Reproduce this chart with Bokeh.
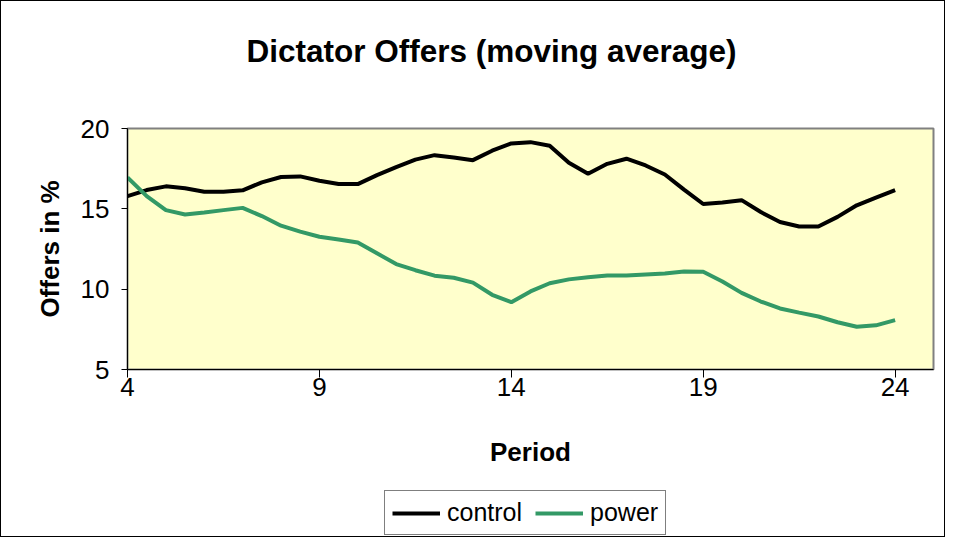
from bokeh.plotting import figure
from bokeh.models import Range1d, FixedTicker, Legend, LegendItem, Label
from bokeh.layouts import column
from bokeh.embed import file_html
from bokeh.resources import INLINE

periods = [4, 4.5, 5, 5.5, 6, 6.5, 7, 7.5, 8, 8.5, 9, 9.5, 10, 10.5, 11, 11.5, 12, 12.5,
           13, 13.5, 14, 14.5, 15, 15.5, 16, 16.5, 17, 17.5, 18, 18.5, 19, 19.5, 20, 20.5,
           21, 21.5, 22, 22.5, 23, 23.5, 24]
control = [15.79, 16.17, 16.40, 16.28, 16.06, 16.06, 16.15, 16.65, 16.98, 17.02, 16.75,
           16.54, 16.54, 17.10, 17.60, 18.06, 18.34, 18.20, 18.03, 18.62, 19.07, 19.15,
           18.93, 17.87, 17.18, 17.80, 18.12, 17.70, 17.14, 16.20, 15.30, 15.40, 15.54,
           14.80, 14.18, 13.90, 13.90, 14.50, 15.22, 15.70, 16.16]
power = [16.95, 15.79, 14.92, 14.65, 14.77, 14.92, 15.06, 14.55, 13.95, 13.58, 13.26,
         13.09, 12.90, 12.23, 11.56, 11.18, 10.84, 10.71, 10.41, 9.65, 9.19, 9.86, 10.37,
         10.61, 10.74, 10.85, 10.85, 10.92, 10.98, 11.10, 11.08, 10.48, 9.77, 9.23, 8.80,
         8.54, 8.30, 7.94, 7.66, 7.75, 8.07]
x_ticks = [4, 9, 14, 19, 24]
y_ticks = [5, 10, 15, 20]
title_text = "Dictator Offers (moving average)"
series_names = ["control", "power"]
series_colors = ["black", "#339966"]

FONT = "Liberation Sans"
W = 943


def blank(height):
    f = figure(width=W, height=height, output_backend="svg", toolbar_location=None,
               x_range=Range1d(100, 101), y_range=Range1d(100, 101),
               x_axis_type=None, y_axis_type=None)
    f.min_border = 0
    f.outline_line_color = None
    f.grid.visible = False
    f.background_fill_color = "white"
    f.border_fill_color = "white"
    return f


# --- title strip ---
pt = blank(90)
pt.add_layout(Label(x=364, y=41, x_units="screen", y_units="screen", text=title_text,
                    text_font=FONT, text_font_size="31.5px", text_font_style="bold",
                    text_color="black", text_align="center", text_baseline="middle"))

# --- main chart ---
p = figure(width=W, height=398, output_backend="svg", toolbar_location=None,
           x_range=Range1d(4, 25), y_range=Range1d(5, 20))
p.min_border_left = 126
p.min_border_right = 11
p.min_border_top = 37
p.min_border_bottom = 120

p.background_fill_color = "#FFFFCC"
p.border_fill_color = "white"
p.outline_line_color = "#808080"
p.outline_line_width = 2
p.grid.visible = False

for ax in (p.xaxis[0], p.yaxis[0]):
    ax.axis_line_color = "black"
    ax.major_tick_line_color = "black"
    ax.minor_tick_line_color = None
    ax.major_tick_in = 0
    ax.major_label_text_font = FONT
    ax.major_label_text_font_size = "26px"
    ax.major_label_text_color = "black"
    ax.axis_label_text_font = FONT
    ax.axis_label_text_font_size = "26px"
    ax.axis_label_text_font_style = "bold"
    ax.axis_label_text_color = "black"

p.xaxis.ticker = FixedTicker(ticks=x_ticks)
p.yaxis.ticker = FixedTicker(ticks=y_ticks)
p.xaxis.major_tick_out = 8
p.yaxis.major_tick_out = 6
p.xaxis.major_label_standoff = 0
p.yaxis.major_label_standoff = 12
p.xaxis.axis_label = "Period"
p.yaxis.axis_label = "Offers in %"
p.xaxis.axis_label_standoff = 38
p.yaxis.axis_label_standoff = 13

p.line(periods, control, line_color=series_colors[0], line_width=4)
p.line(periods, power, line_color=series_colors[1], line_width=4)

# --- legend strip (series drawn outside its visible range; only the legend shows) ---
pl = blank(47)
items = []
for name, col, ys in zip(series_names, series_colors, [control, power]):
    r = pl.line(x=periods, y=ys, line_color=col, line_width=4)
    items.append(LegendItem(label=name, renderers=[r]))
legend = Legend(items=items, orientation="horizontal", location=(257, 1))
legend.label_text_font = FONT
legend.label_text_font_size = "25px"
legend.label_text_color = "black"
legend.glyph_width = 48
legend.glyph_height = 20
legend.label_standoff = 7
legend.spacing = 13
legend.padding = 7
legend.margin = 0
legend.border_line_color = "black"
legend.border_line_width = 1
legend.background_fill_color = "white"
legend.background_fill_alpha = 1
pl.add_layout(legend, "center")

layout = column(pt, p, pl, spacing=0, styles={"border": "1px solid black"})

open("out.html", "w").write(file_html(layout, INLINE))
